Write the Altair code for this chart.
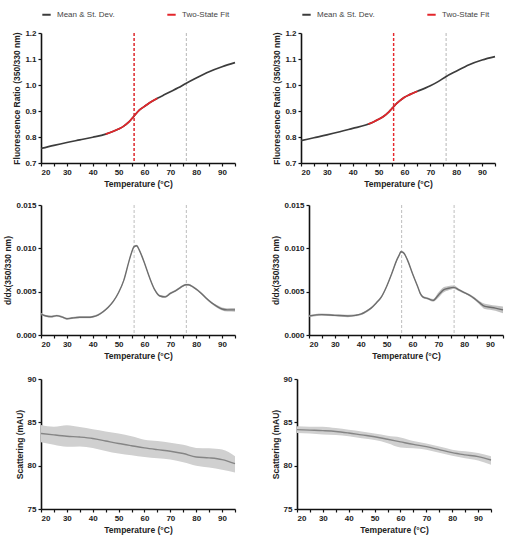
import altair as alt
import pandas as pd

FONT = "Liberation Sans"

# ---------------- Fluorescence ratio (350/330 nm) ----------------
ratio_temp_a = [20, 25, 30, 35, 40, 45, 48, 50, 52, 54, 56, 58, 60, 62, 65, 68, 70, 73, 76, 80, 85, 90, 95]
ratio_mean_a = [0.756, 0.768, 0.779, 0.789, 0.799, 0.811, 0.822, 0.831, 0.842, 0.858, 0.881, 0.903,
                0.918, 0.932, 0.949, 0.964, 0.974, 0.989, 1.006, 1.027, 1.051, 1.070, 1.086]
fit_temp_a = [45, 48, 50, 52, 54, 56, 58, 60, 62, 65]
fit_ratio_a = [0.811, 0.822, 0.831, 0.842, 0.858, 0.881, 0.903, 0.918, 0.932, 0.949]
tm_fit_a = [56.0]
tm_marks_a = [56.0, 76.2]

ratio_temp_b = [20, 25, 30, 35, 40, 45, 48, 50, 52, 54, 55.5, 57, 58, 60, 62, 65, 68, 70, 73, 76, 80, 85, 90, 95]
ratio_mean_b = [0.786, 0.797, 0.808, 0.820, 0.833, 0.846, 0.858, 0.868, 0.880, 0.897, 0.913, 0.929,
                0.938, 0.953, 0.963, 0.976, 0.988, 0.997, 1.013, 1.032, 1.053, 1.078, 1.096, 1.109]
fit_temp_b = [46, 48, 50, 52, 54, 55.5, 57, 58, 60, 62, 65]
fit_ratio_b = [0.850, 0.858, 0.868, 0.880, 0.897, 0.913, 0.929, 0.938, 0.953, 0.963, 0.976]
tm_fit_b = [55.8]
tm_marks_b = [55.8, 76.1]

# ---------------- First derivative ----------------
deriv_temp_a = [20, 22, 24, 26, 28, 30, 32, 35, 38, 40, 42, 44, 46, 48, 50, 52, 54, 55, 56, 57, 58, 59,
                60, 62, 64, 66, 68, 70, 72, 74, 76, 77, 79, 82, 84, 86, 88, 90, 92, 95]
deriv_mean_a = [0.00242, 0.00219, 0.00212, 0.00223, 0.00210, 0.00188, 0.00196, 0.00204, 0.00204, 0.00210,
                0.00230, 0.00269, 0.00320, 0.00390, 0.00490, 0.00630, 0.00850, 0.00950, 0.01020, 0.01030,
                0.00980, 0.00910, 0.00830, 0.00660, 0.00520, 0.00450, 0.00440, 0.00480, 0.00510, 0.00550,
                0.00580, 0.00580, 0.00550, 0.00480, 0.00420, 0.00370, 0.00330, 0.00300, 0.00290, 0.00290]
deriv_sd_a = [0.00012] * 36 + [0.00015, 0.00018, 0.00020, 0.00022]

deriv_temp_b = [20, 25, 30, 35, 38, 40, 42, 44, 46, 48, 50, 52, 54, 55, 55.5, 56.5, 58, 60, 62, 63, 64,
                66, 68, 70, 72, 74, 76, 78, 80, 82, 84, 86, 88, 90, 92, 95]
deriv_mean_b = [0.00219, 0.00235, 0.00227, 0.00220, 0.00227, 0.00240, 0.00270, 0.00310, 0.00370, 0.00440,
                0.00560, 0.00710, 0.00870, 0.00930, 0.00960, 0.00950, 0.00870, 0.00710, 0.00560, 0.00480,
                0.00440, 0.00420, 0.00400, 0.00460, 0.00520, 0.00540, 0.00550, 0.00520, 0.00490, 0.00460,
                0.00420, 0.00370, 0.00330, 0.00320, 0.00310, 0.00290]
deriv_sd_b = [0.00012, 0.00012, 0.00012, 0.00015, 0.00012, 0.00012, 0.00012, 0.00012, 0.00012, 0.00012,
              0.00012, 0.00012, 0.00012, 0.00012, 0.00012, 0.00012, 0.00012, 0.00012, 0.00012, 0.00012,
              0.00012, 0.00012, 0.00015, 0.00030, 0.00030, 0.00025, 0.00020, 0.00015, 0.00012, 0.00012,
              0.00015, 0.00020, 0.00030, 0.00030, 0.00030, 0.00040]

# ---------------- Scattering ----------------
scat_temp = [20, 25, 30, 35, 40, 45, 50, 55, 60, 65, 70, 75, 80, 85, 90, 95]
scat_mean_a = [83.72, 83.55, 83.40, 83.30, 83.14, 82.85, 82.56, 82.30, 82.05, 81.85, 81.67, 81.40,
               81.00, 80.90, 80.70, 80.23]
scat_hi_a = [84.70, 84.50, 84.66, 84.45, 84.19, 83.95, 83.72, 83.40, 83.00, 82.85, 82.64, 82.40,
             82.05, 82.00, 81.86, 81.10]
scat_lo_a = [82.70, 82.40, 82.17, 82.20, 82.05, 81.70, 81.40, 81.20, 81.00, 80.85, 80.70, 80.40,
             80.00, 79.80, 79.53, 79.22]

scat_mean_b = [84.16, 84.10, 84.04, 83.95, 83.77, 83.55, 83.34, 83.05, 82.75, 82.45, 82.20, 81.85,
               81.50, 81.25, 81.04, 80.65]
scat_hi_b = [84.55, 84.50, 84.50, 84.35, 84.15, 83.95, 83.70, 83.45, 83.26, 82.85, 82.55, 82.20,
             81.85, 81.65, 81.45, 81.10]
scat_lo_b = [83.77, 83.70, 83.60, 83.55, 83.40, 83.15, 82.95, 82.60, 82.10, 82.00, 81.85, 81.50,
             81.15, 80.85, 80.60, 80.10]

SERIES = ["Mean & St. Dev.", "Two-State Fit"]
SERIES_COLORS = ["#3c3c3c", "#e3262b"]
W, H = 194, 130
TEMP_TICKS = list(range(20, 96, 5))


def temp_x():
    return alt.X(
        "temp:Q",
        scale=alt.Scale(domain=[20, 95], nice=False, zero=False),
        axis=alt.Axis(values=TEMP_TICKS,
                      labelExpr="datum.value % 10 == 0 ? datum.label : ''",
                      title="Temperature (°C)"),
    )


def value_y(domain, ticks, fmt, title):
    return alt.Y(
        "value:Q",
        scale=alt.Scale(domain=domain, nice=False, zero=False),
        axis=alt.Axis(values=ticks, format=fmt, title=title),
    )


def ratio_panel(t, mean, ft, fv, tm_fit, tm_marks):
    color = alt.Color(
        "series:N",
        scale=alt.Scale(domain=SERIES, range=SERIES_COLORS),
        legend=alt.Legend(title=None, orient="none", legendX=0, legendY=-24,
                          direction="horizontal", symbolType="stroke",
                          symbolStrokeWidth=2, symbolSize=70, labelFont=FONT,
                          labelFontSize=8, labelColor="#444", labelOffset=5,
                          columnPadding=48),
    )
    y = value_y([0.7, 1.2], [0.7, 0.8, 0.9, 1.0, 1.1, 1.2], ".1f",
                "Fluorescence Ratio (350/330 nm)")
    mean_df = pd.DataFrame({"temp": t, "value": mean, "series": SERIES[0]})
    fit_df = pd.DataFrame({"temp": ft, "value": fv, "series": SERIES[1]})
    marks_df = pd.DataFrame({"temp": tm_marks})
    fit_tm_df = pd.DataFrame({"temp": tm_fit})

    guides = alt.Chart(marks_df).mark_rule(color="#bdbdbd", strokeWidth=1.1,
                                           strokeDash=[3, 2]).encode(x=temp_x())
    fit_guide = alt.Chart(fit_tm_df).mark_rule(color="#e8262b", strokeWidth=1.4,
                                               strokeDash=[3, 2]).encode(x=temp_x())
    mean_line = alt.Chart(mean_df).mark_line(strokeWidth=1.7, interpolate="monotone").encode(
        x=temp_x(), y=y, color=color)
    fit_line = alt.Chart(fit_df).mark_line(strokeWidth=1.7, interpolate="monotone").encode(
        x=temp_x(), y=y, color=color)
    return alt.layer(guides, fit_guide, mean_line, fit_line).properties(width=W, height=H)


def band_panel(t, mean, lo, hi, domain, ticks, fmt, title, line_color, band_color, tm_marks=None):
    df = pd.DataFrame({"temp": t, "value": mean, "lo": lo, "hi": hi})
    y = value_y(domain, ticks, fmt, title)
    band = alt.Chart(df).mark_area(color=band_color, opacity=1, interpolate="monotone").encode(
        x=temp_x(), y=alt.Y("lo:Q", scale=alt.Scale(domain=domain, nice=False, zero=False)),
        y2="hi:Q")
    line = alt.Chart(df).mark_line(color=line_color, strokeWidth=1.4,
                                   interpolate="monotone").encode(x=temp_x(), y=y)
    layers = [band, line]
    if tm_marks:
        guides = alt.Chart(pd.DataFrame({"temp": tm_marks})).mark_rule(
            color="#c4c4c4", strokeWidth=1.1, strokeDash=[3, 2]).encode(x=temp_x())
        layers = [guides] + layers
    return alt.layer(*layers).properties(width=W, height=H)


def deriv_panel(t, mean, sd, tm_marks):
    lo = [m - s for m, s in zip(mean, sd)]
    hi = [m + s for m, s in zip(mean, sd)]
    return band_panel(t, mean, lo, hi, [0, 0.015], [0, 0.005, 0.010, 0.015], ".3f",
                      "d/dx(350/330 nm)", "#6e6e6e", "#c2c2c2", tm_marks)


def scatter_panel(mean, lo, hi):
    return band_panel(scat_temp, mean, lo, hi, [75, 90], [75, 80, 85, 90], "d",
                      "Scattering (mAU)", "#858585", "#d0d0d0")


COL_GAP = 33

top = alt.hconcat(
    ratio_panel(ratio_temp_a, ratio_mean_a, fit_temp_a, fit_ratio_a, tm_fit_a, tm_marks_a),
    ratio_panel(ratio_temp_b, ratio_mean_b, fit_temp_b, fit_ratio_b, tm_fit_b, tm_marks_b),
    spacing=COL_GAP,
).resolve_legend(color="independent")

middle = alt.hconcat(
    deriv_panel(deriv_temp_a, deriv_mean_a, deriv_sd_a, tm_marks_a),
    deriv_panel(deriv_temp_b, deriv_mean_b, deriv_sd_b, tm_marks_b),
    spacing=COL_GAP,
)

bottom = alt.hconcat(
    scatter_panel(scat_mean_a, scat_lo_a, scat_hi_a),
    scatter_panel(scat_mean_b, scat_lo_b, scat_hi_b),
    spacing=COL_GAP,
)

chart = alt.vconcat(
    top,
    alt.vconcat(middle, bottom, spacing=15),
    spacing=13,
).properties(
    padding={"left": 3, "top": 9, "right": 5, "bottom": 2},
    background="white",
).configure(font=FONT).configure_view(stroke=None).configure_axis(
    grid=False,
    domainColor="#111",
    domainWidth=1.6,
    tickColor="#111",
    tickWidth=1.2,
    tickSize=3,
    labelFont=FONT,
    labelFontSize=8,
    labelFontWeight="bold",
    labelColor="#222",
    labelPadding=2,
    titleFont=FONT,
    titleFontSize=8.5,
    titleFontWeight="bold",
    titleColor="#222",
    titlePadding=3,
)

chart.save("out.html", embed_options={"renderer": "svg", "actions": False})
